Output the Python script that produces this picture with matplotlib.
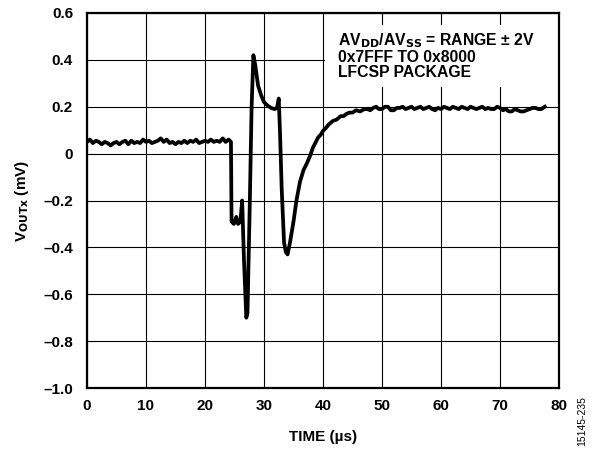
import matplotlib
matplotlib.use("Agg")
import matplotlib.pyplot as plt
from matplotlib.patches import Rectangle

plt.rcParams['font.family'] = ['Liberation Sans', 'DejaVu Sans']

# Time (µs) and output (mV)
pre_t = [0, 0.5, 1.0, 1.5, 2.0, 2.5, 3.0, 3.5, 4.0, 4.5, 5.0, 5.5, 6.0, 6.5,
         7.0, 7.5, 8.0, 8.5, 9.0, 9.5, 10.0, 10.5, 11.0, 11.5, 12.0, 12.5,
         13.0, 13.5, 14.0, 14.5, 15.0, 15.5, 16.0, 16.5, 17.0, 17.5, 18.0,
         18.5, 19.0, 19.5, 20.0, 20.5, 21.0, 21.5, 22.0, 22.5, 23.0, 23.5,
         24.0, 24.4]
pre_v = [0.05, 0.06, 0.045, 0.055, 0.05, 0.04, 0.05, 0.045, 0.035, 0.045,
         0.05, 0.04, 0.05, 0.055, 0.04, 0.055, 0.045, 0.05, 0.045, 0.06,
         0.05, 0.055, 0.045, 0.05, 0.055, 0.065, 0.05, 0.06, 0.045, 0.05,
         0.04, 0.05, 0.045, 0.055, 0.045, 0.055, 0.05, 0.06, 0.045, 0.05,
         0.055, 0.05, 0.06, 0.05, 0.055, 0.05, 0.065, 0.05, 0.06, 0.05]

tr_t = [24.5, 24.9, 25.3, 25.6, 26.0, 26.3, 26.6, 27.0, 27.2, 27.6, 27.9,
        28.2, 28.5, 29.0, 29.5, 30.0, 30.6, 31.2, 31.8, 32.2, 32.5, 32.7,
        33.0, 33.4, 33.7, 34.0, 34.4, 35.0, 35.5, 36.1, 36.7, 37.2, 37.8,
        38.3, 38.8, 39.2, 39.6, 40.0, 40.5, 41.0, 41.7, 42.3, 43.0, 43.5,
        44.0, 44.5, 45.0, 45.6, 46.3, 47.0]
tr_v = [-0.29, -0.30, -0.27, -0.30, -0.29, -0.20, -0.45, -0.70, -0.68,
        -0.20, 0.20, 0.42, 0.38, 0.29, 0.25, 0.22, 0.205, 0.195, 0.19,
        0.195, 0.235, 0.10, -0.15, -0.38, -0.42, -0.43, -0.38, -0.29, -0.20,
        -0.12, -0.07, -0.045, -0.01, 0.026, 0.05, 0.07, 0.08, 0.097, 0.11,
        0.125, 0.14, 0.145, 0.16, 0.16, 0.17, 0.175, 0.175, 0.185, 0.18,
        0.19]

post_t = [47.5, 48, 48.5, 49, 49.5, 50, 50.5, 51, 51.5, 52, 52.5, 53, 53.5,
          54, 54.5, 55, 55.5, 56, 56.5, 57, 57.5, 58, 58.5, 59, 59.5, 60,
          60.5, 61, 61.5, 62, 62.5, 63, 63.5, 64, 64.5, 65, 65.5, 66, 66.5,
          67, 67.5, 68, 68.5, 69, 69.5, 70, 70.5, 71, 71.5, 72, 72.5, 73,
          73.5, 74, 74.5, 75, 75.5, 76, 76.5, 77, 77.6]
post_v = [0.19, 0.185, 0.195, 0.2, 0.19, 0.19, 0.2, 0.2, 0.185, 0.185, 0.195,
          0.195, 0.2, 0.19, 0.195, 0.2, 0.19, 0.195, 0.2, 0.19, 0.195, 0.2,
          0.19, 0.185, 0.195, 0.19, 0.2, 0.195, 0.19, 0.2, 0.195, 0.19, 0.2,
          0.195, 0.19, 0.2, 0.195, 0.19, 0.195, 0.2, 0.19, 0.195, 0.19, 0.19,
          0.2, 0.195, 0.185, 0.19, 0.18, 0.18, 0.19, 0.185, 0.18, 0.18,
          0.185, 0.19, 0.195, 0.195, 0.19, 0.19, 0.2]

x_ticks = [0, 10, 20, 30, 40, 50, 60, 70, 80]
y_ticks = [-1.0, -0.8, -0.6, -0.4, -0.2, 0, 0.2, 0.4, 0.6]
y_labels = ['–1.0', '–0.8', '–0.6', '–0.4', '–0.2', '0', '0.2', '0.4', '0.6']

t = pre_t + tr_t + post_t
v = pre_v + tr_v + post_v

fig = plt.figure(figsize=(5.95, 4.51), dpi=100)
ax = fig.add_axes([87/595, 1 - 388/451, (559 - 87)/595, (388 - 13)/451])

ax.plot(t, v, color='black', lw=2.7, zorder=3, solid_joinstyle='round')

ax.set_xlim(0, 80)
ax.set_ylim(-1.0, 0.6)
ax.set_xticks(x_ticks)
ax.set_xticklabels([str(x) for x in x_ticks])
ax.set_yticks(y_ticks)
ax.set_yticklabels(y_labels)
ax.tick_params(length=0, labelsize=11)
ax.tick_params(axis='y', pad=10)
ax.tick_params(axis='x', pad=8)
for lab in ax.get_xticklabels() + ax.get_yticklabels():
    lab.set_fontweight('bold')
ax.grid(True, color='black', lw=0.8)
ax.set_axisbelow(True)
for s in ax.spines.values():
    s.set_linewidth(1.6)

# white box behind annotation
ax.add_patch(Rectangle((40.3, 0.284), 80 - 40.3, 0.549 - 0.284,
                       facecolor='white', edgecolor='none', zorder=2))
ax.text(42.6, 0.52,
        'AV$_{\\mathbf{DD}}$/AV$_{\\mathbf{SS}}$ = RANGE ± 2V\n0x7FFF TO 0x8000\nLFCSP PACKAGE',
        fontsize=11.3, fontweight='bold', va='top', ha='left', zorder=4,
        linespacing=1.0)

ax.set_xlabel('TIME (µs)', fontsize=11, fontweight='bold')
ax.set_ylabel('V$_{\\mathbf{OUTx}}$ (mV)', fontsize=11, fontweight='bold')
ax.xaxis.set_label_coords(0.5, -(437 - 388) / 375)
ax.yaxis.set_label_coords(-(87 - 22) / 472, 0.5)
ax.xaxis.label.set_va('center')
ax.yaxis.label.set_va('center')

fig.text(582/595, 1 - 421/451, '15145-235', rotation=90, fontsize=7.5,
         ha='center', va='center')

fig.savefig('out.png', dpi=100)
